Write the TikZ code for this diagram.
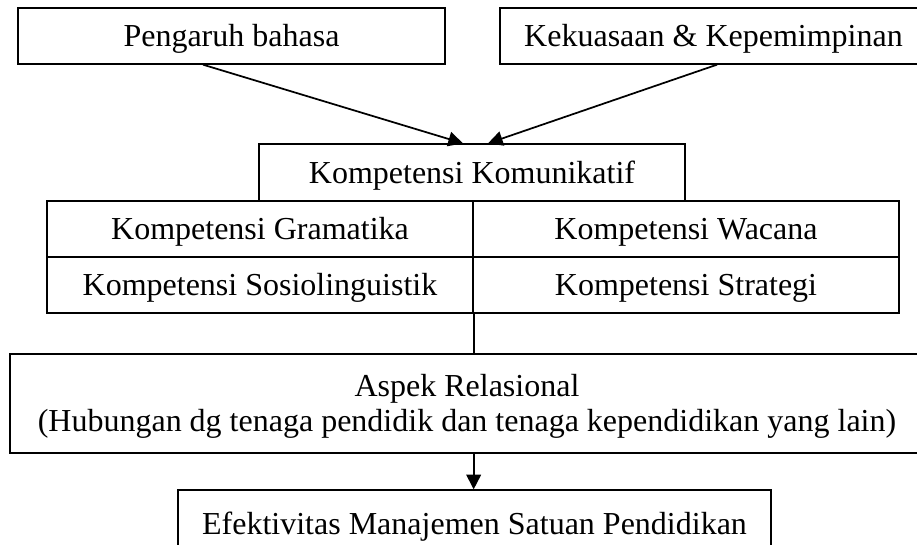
\documentclass[tikz,border=0pt]{standalone}
\usepackage{fontspec}
\setmainfont{Liberation Serif}
\usetikzlibrary{positioning,calc,arrows.meta}

\tikzset{
  kotak/.style={draw,line width=1pt,inner sep=0pt,align=center,font=\fontsize{24}{26.25}\selectfont},
  satubaris/.style={kotak,text height=21pt,text depth=5pt},
  panah/.style={line width=1.3pt,-{Triangle[length=11pt,width=11pt]}}
}

\begin{document}
\begin{tikzpicture}[x=0.75pt,y=-0.75pt]
\path[use as bounding box,clip] (0,0) rectangle (917,544);
\node[satubaris,minimum width=320.25pt,minimum height=42pt] (pengaruh) at (231.5,36) {Pengaruh bahasa};
\node[satubaris,minimum width=320.25pt,minimum height=42pt] (kekuasaan) at (713.5,36) {Kekuasaan \& Kepemimpinan};
\node[satubaris,minimum width=319.5pt,minimum height=42.75pt] (komunikatif) at (472,172.5) {Kompetensi Komunikatif};
\node[satubaris,minimum width=319.5pt,minimum height=42pt] (gramatika) at (260,229) {Kompetensi Gramatika};
\node[satubaris,minimum width=319.5pt,minimum height=42pt] (wacana) at (686,229) {Kompetensi Wacana};
\node[satubaris,minimum width=319.5pt,minimum height=42pt] (sosio) at (260,285) {Kompetensi Sosiolinguistik};
\node[satubaris,minimum width=319.5pt,minimum height=42pt] (strategi) at (686,285) {Kompetensi Strategi};
\node[kotak,minimum width=685.5pt,minimum height=74.25pt] (aspek) at (467,403.5) {\rule{0pt}{20.25pt}Aspek Relasional\\(Hubungan dg tenaga pendidik dan tenaga kependidikan yang lain)};
\node[satubaris,minimum width=444.75pt,minimum height=51pt] (efektivitas) at (474.5,524) {Efektivitas Manajemen Satuan Pendidikan};
\draw[panah] ($(pengaruh.south)+(-28.5,0)$) -- ($(komunikatif.north)+(-9,0)$);
\draw[panah] ($(kekuasaan.south)+(3.5,0)$) -- ($(komunikatif.north)+(16,0)$);
\draw[line width=1.3pt] (sosio.south east) -- (sosio.south east |- aspek.north);
\draw[panah] (sosio.south east |- aspek.south) -- (sosio.south east |- efektivitas.north);
\end{tikzpicture}
\end{document}
